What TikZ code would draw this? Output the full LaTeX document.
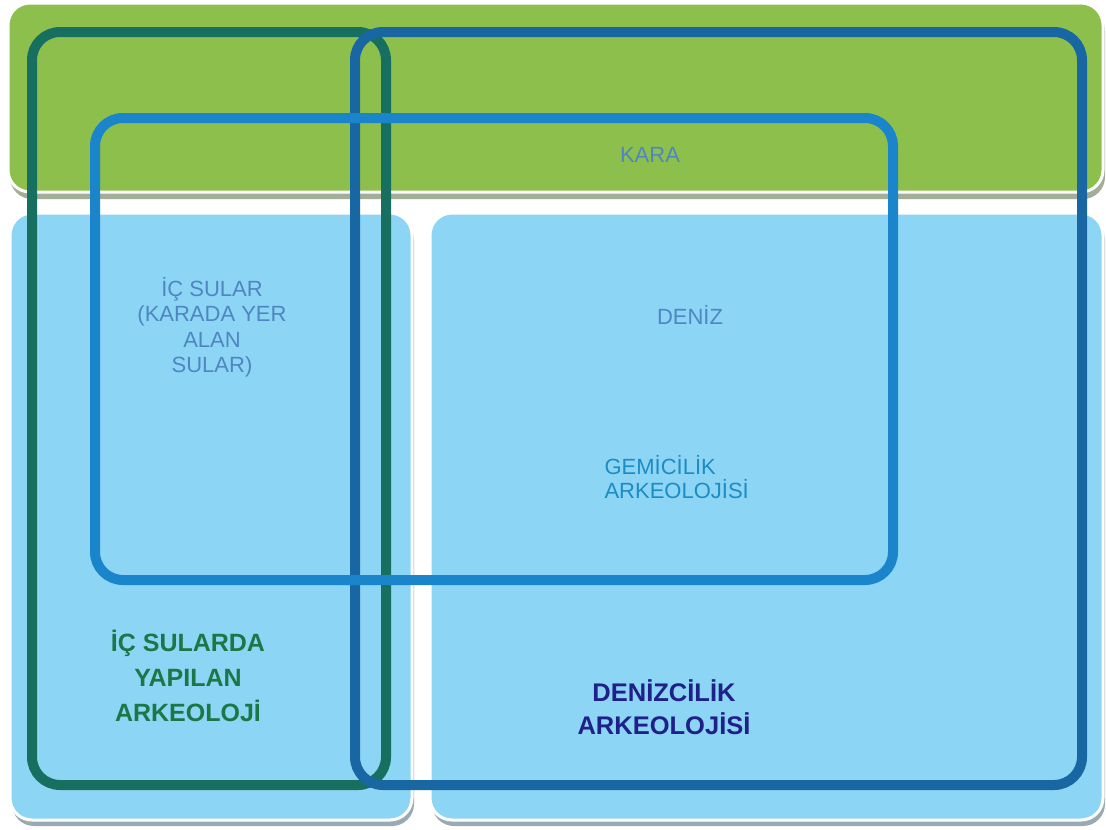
\documentclass[tikz,border=0pt]{standalone}
\usepackage{fontspec}
\setmainfont{Liberation Sans}
\definecolor{karagreen}{HTML}{8DBF4C}
\definecolor{sublue}{HTML}{8DD5F5}
\definecolor{icteal}{HTML}{17705F}
\definecolor{denizblue}{HTML}{1967A2}
\definecolor{gemiblue}{HTML}{1A85CA}
\definecolor{shadegreen}{HTML}{A3AE98}
\definecolor{shadeblue}{HTML}{9AAAB4}
\definecolor{softtext}{HTML}{4F86C2}
\definecolor{gemitext}{HTML}{1C8CC4}
\definecolor{ictext}{HTML}{1A7848}
\definecolor{navytext}{HTML}{20208A}
\tikzset{
  region/.style={rounded corners=22pt, draw=white, line width=3pt},
  ring/.style={rounded corners=28pt, line width=10pt},
  plaintext/.style={align=center, font=\fontsize{22}{25.5}\selectfont},
  boldtext/.style={align=center, font=\bfseries\fontsize{25}{35}\selectfont}
}
\begin{document}
\begin{tikzpicture}[x=1pt,y=-1pt]
\useasboundingbox[fill=white] (0,0) rectangle (1106,830);
% land and water
\fill[shadegreen, rounded corners=22pt] (10,9) rectangle (1105,199);
\filldraw[region, fill=karagreen] (8,3) rectangle (1103,192);
\fill[shadeblue, rounded corners=22pt] (12,218) rectangle (414,826);
\fill[shadeblue, rounded corners=22pt] (432,218) rectangle (1105,826);
\filldraw[region, fill=sublue] (10,213) rectangle (412,820);
\filldraw[region, fill=sublue] (430,213) rectangle (1103,820);
% outlines
\draw[ring, icteal] (32,32) rectangle (386,785);
\draw[ring, denizblue] (355,32) rectangle (1082,785);
\draw[ring, gemiblue] (95,118) rectangle (893,580);
% labels
\node[plaintext, text=softtext] (kara) at (650,155) {KARA};
\node[plaintext, text=softtext] (icsular) at (212,327) {İÇ SULAR\\(KARADA YER\\ALAN\\SULAR)};
\node[plaintext, text=softtext] (deniz) at (690,315) {DENİZ};
\node[plaintext, align=left, anchor=west, text=gemitext, font=\fontsize{22}{24.5}\selectfont] (gemicilik) at (601,477) {GEMİCİLİK\\ARKEOLOJİSİ};
\node[boldtext, text=ictext] (icarkeo) at (188,676) {İÇ SULARDA\\YAPILAN\\ARKEOLOJİ};
\node[boldtext, text=navytext, font=\bfseries\fontsize{25.5}{33}\selectfont] (denizarkeo) at (664,707) {DENİZCİLİK\\ARKEOLOJİSİ};
\end{tikzpicture}
\end{document}
